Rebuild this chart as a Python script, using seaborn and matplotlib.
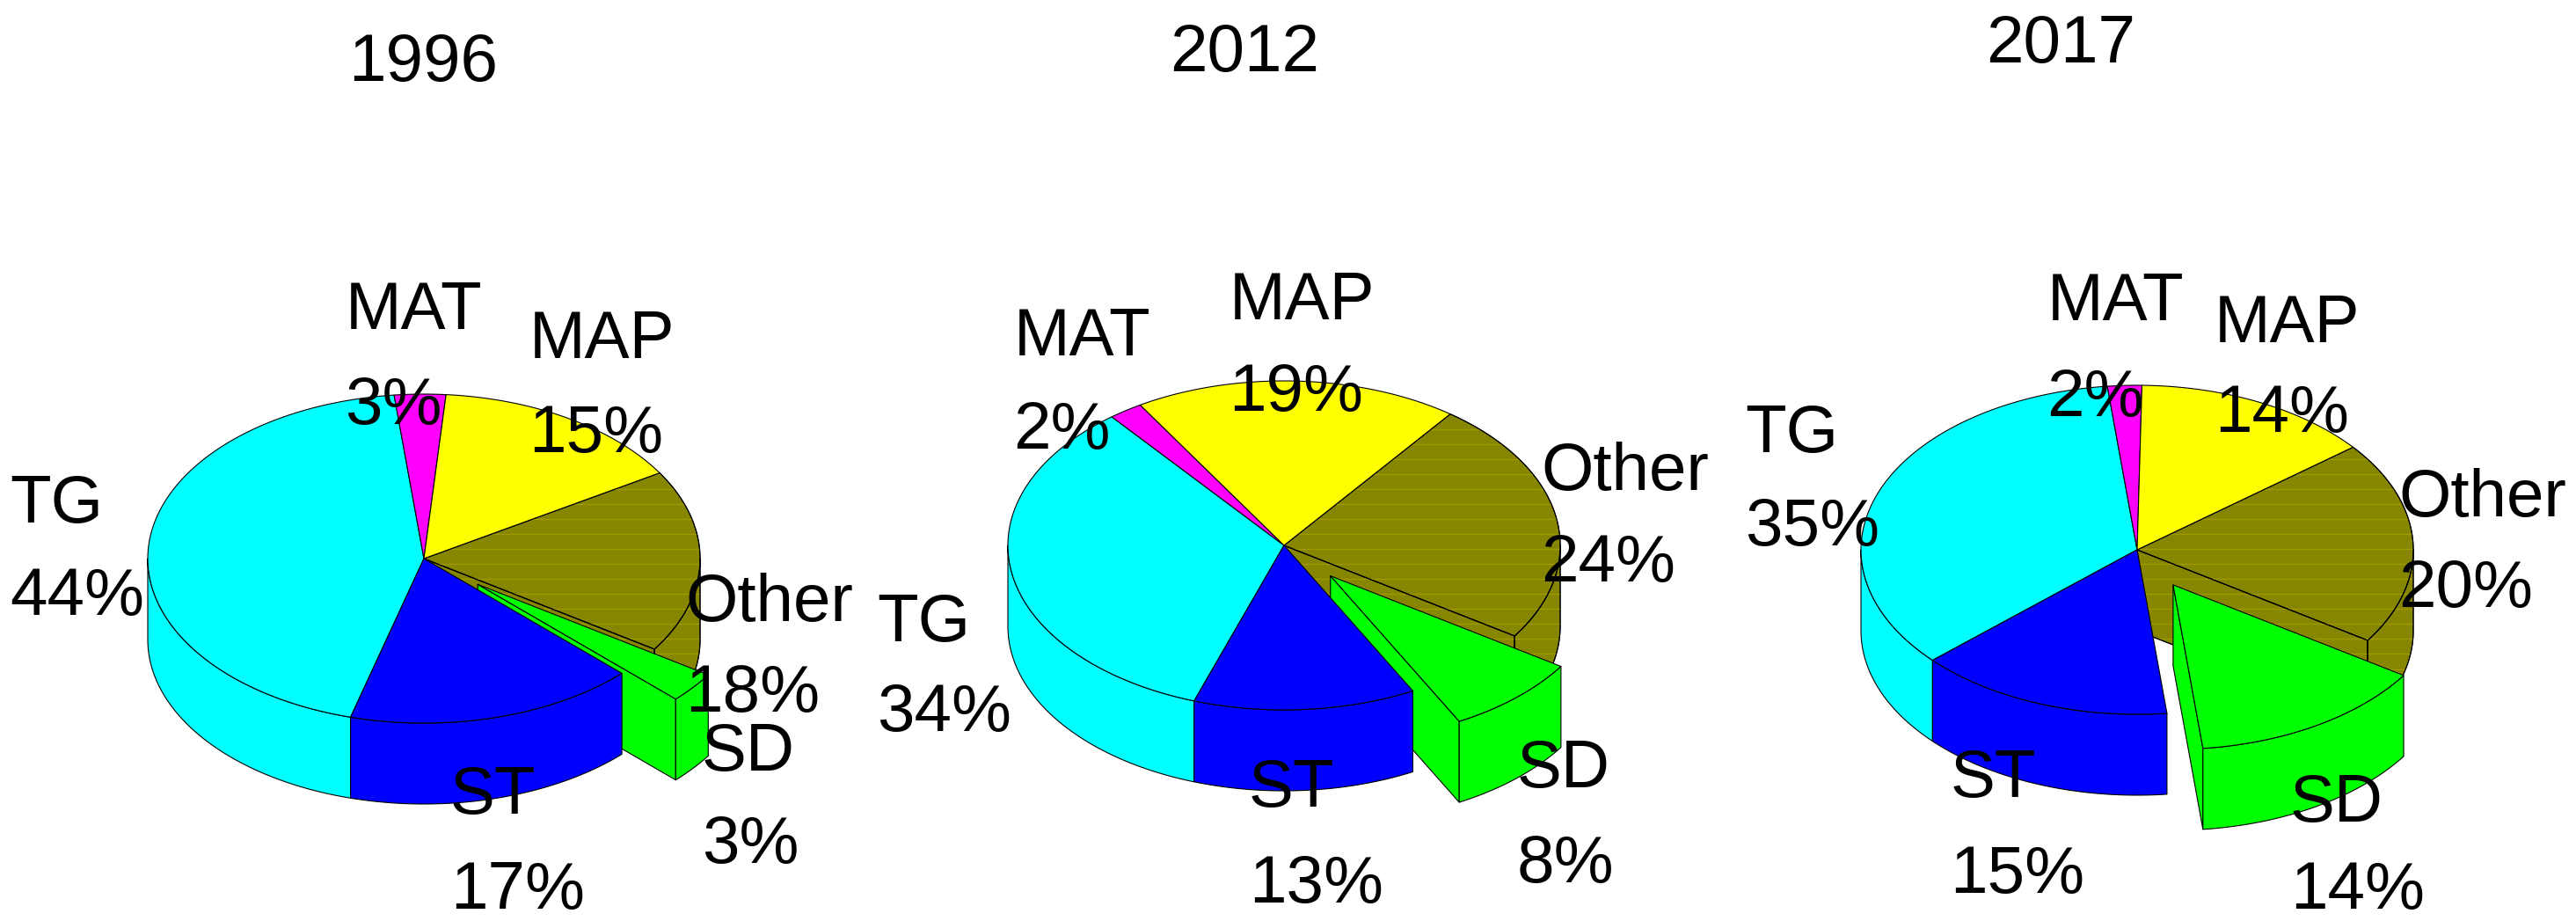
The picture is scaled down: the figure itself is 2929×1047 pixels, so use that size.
import numpy as np
import matplotlib
matplotlib.use("Agg")
import matplotlib.pyplot as plt
import seaborn as sns

sns.set_theme(style="white")
plt.rcParams["font.family"] = ["Liberation Sans", "DejaVu Sans"]

# Clockwise order, beginning at the Other/SD boundary
categories = ["SD", "ST", "TG", "MAT", "MAP", "Other"]
years = ["1996", "2012", "2017"]
values_1996 = [3, 17, 44, 3, 15, 18]
values_2012 = [8, 13, 34, 2, 19, 24]
values_2017 = [14, 15, 35, 2, 14, 20]
all_values = [values_1996, values_2012, values_2017]

palette = dict(zip(categories, sns.color_palette(
    ["#00ff00", "#0000ff", "#00ffff", "#ff00ff", "#ffff00", "#868600"])))
STRIPE = "#a09a00"

# Layout, in reference pixels
W, H = 2929, 1047
centers = [(482, 635), (1460, 620), (2430, 625)]
RX, RY, DEPTH = 314, 187, 92
START = 123.4
EXPLODE = 0.25
S = 2929 / 1568
TEXT_DY = 5
year_pos = [(212, 36), (712, 30), (1209, 25)]
name_pos = [
    {"TG": (6, 305), "MAT": (210, 187), "MAP": (322, 205), "Other": (417, 365), "SD": (427, 456), "ST": (274, 482)},
    {"TG": (534, 377), "MAT": (617, 203), "MAP": (748, 181), "Other": (938, 285), "SD": (923, 466), "ST": (760, 478)},
    {"TG": (1062, 262), "MAT": (1246, 182), "MAP": (1348, 195), "Other": (1460, 301), "SD": (1394, 487), "ST": (1187, 472)},
]
pct_pos = [
    {"TG": (6, 361), "MAT": (210, 245), "MAP": (322, 262), "Other": (417, 420), "SD": (427, 512), "ST": (274, 540)},
    {"TG": (534, 432), "MAT": (617, 260), "MAP": (748, 237), "Other": (938, 341), "SD": (923, 524), "ST": (760, 536)},
    {"TG": (1062, 319), "MAT": (1246, 240), "MAP": (1348, 250), "Other": (1460, 356), "SD": (1394, 540), "ST": (1187, 530)},
]
FS = 55

fig = plt.figure(figsize=(W / 100, H / 100), dpi=100, facecolor="white")
ax = fig.add_axes([0, 0, 1, 1])
ax.set_xlim(0, W)
ax.set_ylim(H, 0)
ax.axis("off")
LW = 0.8


def pt(c, deg):
    a = np.radians(deg)
    return np.array([c[0] + RX * np.sin(a), c[1] - RY * np.cos(a)])


def arc(c, a0, a1):
    n = max(2, int(abs(a1 - a0)) + 2)
    return np.array([pt(c, d) for d in np.linspace(a0, a1, n)])


def poly(xy, color, z):
    return ax.fill(xy[:, 0], xy[:, 1], facecolor=color, edgecolor="black",
                   linewidth=LW, zorder=z, joinstyle="round")[0]


def side(c, a0, a1, color, z):
    lo, hi = max(a0, 90), min(a1, 270)
    if hi <= lo:
        return []
    upper = arc(c, lo, hi)
    lower = upper[::-1] + [0, DEPTH]
    return [poly(np.vstack([upper, lower]), color, z)]


def top(c, a0, a1, color, z):
    return [poly(np.vstack([[c], arc(c, a0, a1)]), color, z)]


def wall(c, deg, color, z):
    e = pt(c, deg)
    xy = np.array([c, e, e + [0, DEPTH], np.array(c) + [0, DEPTH]], dtype=float)
    return [poly(xy, color, z)]


order_z = {"Other": 1, "TG": 2, "MAT": 3, "MAP": 3, "SD": 4, "ST": 5}

for c, vals in zip(centers, all_values):
    a = START
    for cat, v in zip(categories, vals):
        a0, a1 = a, a + v * 3.6
        a = a1
        col = palette[cat]
        z = order_z[cat] * 10
        cc = np.array(c, dtype=float)
        if cat == "SD":
            m = np.radians((a0 + a1) / 2)
            cc = cc + EXPLODE * np.array([RX * np.sin(m), -RY * np.cos(m)])
            wall(cc, a1, col, z)
            side(cc, a0, a1, col, z + 1)
            top(cc, a0, a1, col, z + 2)
        elif cat == "Other":
            parts = wall(cc, a1, col, z) + side(cc, a0 - 360, a1 - 360, col, z)
            parts += top(cc, a0, a1, col, z + 1)
            for p in parts:
                ys = p.get_xy()[:, 1]
                for y in np.arange(590 % 17.05, H, 17.05):
                    if ys.min() < y < ys.max():
                        ln = ax.plot([cc[0] - RX - 5, cc[0] + RX + 5], [y, y], color=STRIPE,
                                     lw=0.9, zorder=p.get_zorder(), solid_capstyle="butt")[0]
                        ln.set_clip_path(p)
                x = p.get_xy()
                ax.plot(x[:, 0], x[:, 1], color="black", lw=LW, zorder=p.get_zorder())
        else:
            side(cc, a0, a1, col, z)
            top(cc, a0, a1, col, z + 1)

txt = dict(fontsize=FS, color="black", ha="left", va="center", zorder=100)
for (x, y), yr in zip(year_pos, years):
    ax.text(x * S, y * S + TEXT_DY, yr, **txt)
for names, pcts, vals in zip(name_pos, pct_pos, all_values):
    for cat, v in zip(categories, vals):
        nx, ny = names[cat]
        px, py = pcts[cat]
        ax.text(nx * S, ny * S + TEXT_DY, cat, **txt)
        ax.text(px * S, py * S + TEXT_DY, f"{v}%", **txt)

fig.savefig("out.png", dpi=100, facecolor="white")
